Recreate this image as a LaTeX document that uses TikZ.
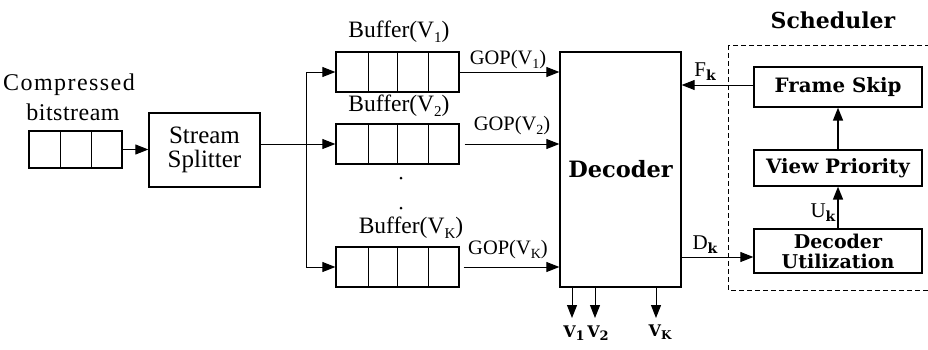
\documentclass[tikz,border=0pt]{standalone}
\usepackage{fontspec}
\setmainfont{Liberation Serif}
\newfontfamily\bfam{DejaVu Serif}
\usetikzlibrary{arrows.meta}
\newcommand\lo[2][15]{\raisebox{-0.4ex}{\fontsize{#1}{#1}\selectfont #2}}
\newcommand\fsz[1]{\fontsize{#1}{#1}\selectfont}
\begin{document}
\begin{tikzpicture}[x=1pt,y=-1pt,
  box/.style={draw, line width=1.3pt, inner sep=0pt, align=center},
  bbox/.style={box, font=\bfam\bfseries\fsz{19.8}},
  buf/.style={box, minimum width=123pt, minimum height=40pt},
  lbl/.style={inner sep=0pt, font=\fsz{23.5}},
  glbl/.style={inner sep=0pt, font=\fsz{20.5}},
  arr/.style={line width=1pt, -{Triangle[length=13pt,width=10pt]}},
  thin/.style={line width=0.9pt},
  dot/.style={circle, fill, inner sep=0pt, minimum size=3pt}]
\useasboundingbox (0,0) rectangle (928,349);
\clip (0,0) rectangle (928,349);

% compressed bitstream
\node[inner sep=0pt, font=\fsz{24}\addfontfeature{LetterSpace=6}] (cbl1) at (69,85) {Compressed};
\node[inner sep=0pt, font=\fsz{24}\addfontfeature{LetterSpace=2}] (cbl2) at (73,112) {bitstream};
\node[box, minimum width=93pt, minimum height=37pt] (cb) at (75.5,149.5) {};
\foreach \d in {32,63} \draw[line width=1.3pt] ([xshift=\d pt]cb.north west) -- ([xshift=\d pt]cb.south west);

% stream splitter
\node[box, minimum width=111pt, minimum height=74pt, font=\fsz{25}] (ss) at (204.5,150) {Stream\\[-1pt]Splitter};
\draw[arr] (cb.east) -- (cb.east -| ss.west);

% splitter fan-out
\coordinate (j) at (306,144);
\draw[thin] (ss.east |- j) -- (j);

% buffers
\node[buf] (b1) at (397.5,72) {};
\node[buf] (b2) at (397.5,144) {};
\node[buf] (bK) at (397.5,267) {};
\foreach \b in {b1,b2,bK}
  \foreach \d in {33,62,93}
    \draw[line width=1.3pt] ([xshift=\d pt]\b.north west) -- ([xshift=\d pt]\b.south west);
\draw[arr] (j) |- (b1.west);
\draw[arr] (j) -- (b2.west);
\draw[arr] (j) |- (bK.west);

\node[lbl] (l1) at (399,32) {Buffer(V\lo{1})};
\node[lbl] (l2) at (399,106) {Buffer(V\lo{2})};
\node[lbl] (lK) at (411,228) {Buffer(V\lo{K})};
\node[dot] (d1) at (401,178) {};
\node[dot] (d2) at (401,208) {};

% decoder
\node[box, minimum width=121pt, minimum height=235pt, font=\bfam\bfseries\fsz{22.5}] (dec) at (620.5,169.5) {Decoder};

\draw[arr] (b1.east) -- (b1.east -| dec.west);
\draw[arr] ([xshift=5pt]b2.east) -- (b2.east -| dec.west);
\draw[arr] ([xshift=4pt]bK.east) -- (bK.east -| dec.west);
\node[glbl] (g1) at (508,60) {GOP(V\lo[14]{1})};
\node[glbl] (g2) at (512,126) {GOP(V\lo[14]{2})};
\node[glbl] (gK) at (508,250) {GOP(V\lo[14]{K})};

% outputs
\coordinate (o1) at (572,318);
\coordinate (o2) at (595,318);
\coordinate (oK) at (656,318);
\foreach \o in {o1,o2,oK} \draw[arr] (\o |- dec.south) -- (\o);
\node[inner sep=0pt, font=\bfam\bfseries\fsz{16}] (v1) at (574,333) {V\lo[13]{1}};
\node[inner sep=0pt, font=\bfam\bfseries\fsz{16}] (v2) at (598,333) {V\lo[13]{2}};
\node[inner sep=0pt, font=\bfam\bfseries\fsz{16}] (vK) at (660,332) {V\lo[12]{K}};

% scheduler
\draw[line width=1pt, dash pattern=on 5pt off 3pt] (728,45) rectangle (940,290);
\node[inner sep=0pt, font=\bfam\bfseries\fsz{22}] (sch) at (833,20) {Scheduler};
\node[bbox, minimum width=168pt, minimum height=40pt] (fs) at (838,87) {Frame Skip};
\node[bbox, minimum width=168pt, minimum height=36pt] (vp) at (838,168) {View Priority};
\node[bbox, minimum width=168pt, minimum height=44pt, font=\bfam\bfseries\fsz{19}] (du) at (838,251) {Decoder\\[1pt]Utilization};

\draw[arr, line width=1.6pt] (vp.north) -- (fs.south);
\draw[arr, line width=1.6pt] (du.north) -- (vp.south);
\draw[arr] (fs.west |- 0,85) -- (dec.east |- 0,85);
\draw[arr] (dec.east |- 0,257) -- (du.west |- 0,257);

\node[inner sep=0pt, font=\fsz{21}] (fk) at (705,72) {F\lo[14]{\bfam\bfseries k}};
\node[inner sep=0pt, font=\fsz{21}] (dk) at (705,245) {D\lo[14]{\bfam\bfseries k}};
\node[inner sep=0pt, font=\fsz{21}] (uk) at (823,213) {U\lo[14]{\bfam\bfseries k}};
\end{tikzpicture}
\end{document}
